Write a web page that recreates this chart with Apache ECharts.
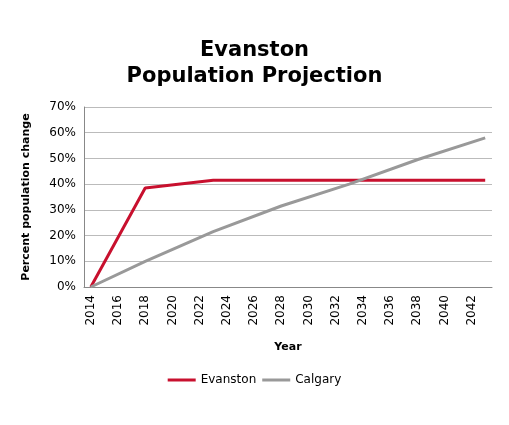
<!DOCTYPE html>
<html>
<head>
<meta charset="utf-8">
<script src="https://cdn.jsdelivr.net/npm/echarts@6/dist/echarts.min.js"></script>
<style>html,body{margin:0;padding:0;background:#fff;}#chart{width:509px;height:425px;}</style>
</head>
<body>
<div id="chart"></div>
<script>
var years = [];
for (var y = 2014; y <= 2043; y++) { years.push(String(y)); }

// known points, other years left empty and joined
var evanstonPts = {2014: 0, 2018: 38.5, 2023: 41.5, 2043: 41.5};
var calgaryPts = {2014: 0, 2018: 10, 2023: 21.5, 2028: 31.5, 2033: 40, 2038: 49.5, 2043: 58};

function toSeries(pts){
	var out = [];
	for (var i = 0; i < years.length; i++) {
		var v = pts[years[i]];
		out.push(v === undefined ? null : v);
	}
	return out;
}
var evanston = toSeries(evanstonPts);
var calgary = toSeries(calgaryPts);

var chart = echarts.init(document.getElementById('chart'));
chart.setOption({
	animation: false,
	title: {
		text: 'Evanston\nPopulation Projection',
		left: 'center', top: 33,
		textStyle: {fontFamily: 'DejaVu Sans', fontSize: 21, fontWeight: 'bold', color: '#000', lineHeight: 26}
	},
	legend: {
		bottom: 34, left: 'center', itemWidth: 28, itemHeight: 3, itemGap: 6,
		icon: 'rect',
		textStyle: {fontFamily: 'DejaVu Sans', fontSize: 12, color: '#000'},
		data: ['Evanston', 'Calgary']
	},
	grid: {left: 84, right: 17, top: 107, bottom: 138, containLabel: false},
	xAxis: {
		type: 'category', data: years, boundaryGap: true,
		name: 'Year', nameLocation: 'middle', nameGap: 55,
		nameTextStyle: {fontFamily: 'DejaVu Sans', fontWeight: 'bold', fontSize: 11, color: '#000'},
		axisLine: {lineStyle: {color: '#888'}},
		axisTick: {show: false},
		axisLabel: {interval: 1, rotate: 90, fontFamily: 'DejaVu Sans', fontSize: 12, color: '#000'}
	},
	yAxis: {
		type: 'value', min: 0, max: 70, interval: 10,
		name: 'Percent population change', nameLocation: 'middle', nameGap: 52,
		nameTextStyle: {fontFamily: 'DejaVu Sans', fontWeight: 'bold', fontSize: 11, color: '#000', letterSpacing: -0.6},
		axisLine: {show: true, lineStyle: {color: '#888'}},
		axisTick: {show: false},
		axisLabel: {formatter: '{value}%', fontFamily: 'DejaVu Sans', fontSize: 12, color: '#000'},
		splitLine: {lineStyle: {color: '#bbb'}}
	},
	series: [
		{name: 'Evanston', type: 'line', data: evanston, connectNulls: true, showSymbol: false,
			itemStyle: {color: '#c8102e'}, lineStyle: {color: '#c8102e', width: 3}},
		{name: 'Calgary', type: 'line', data: calgary, connectNulls: true, showSymbol: false,
			itemStyle: {color: '#999'}, lineStyle: {color: '#999', width: 3}}
	]
});
</script>
</body>
</html>
